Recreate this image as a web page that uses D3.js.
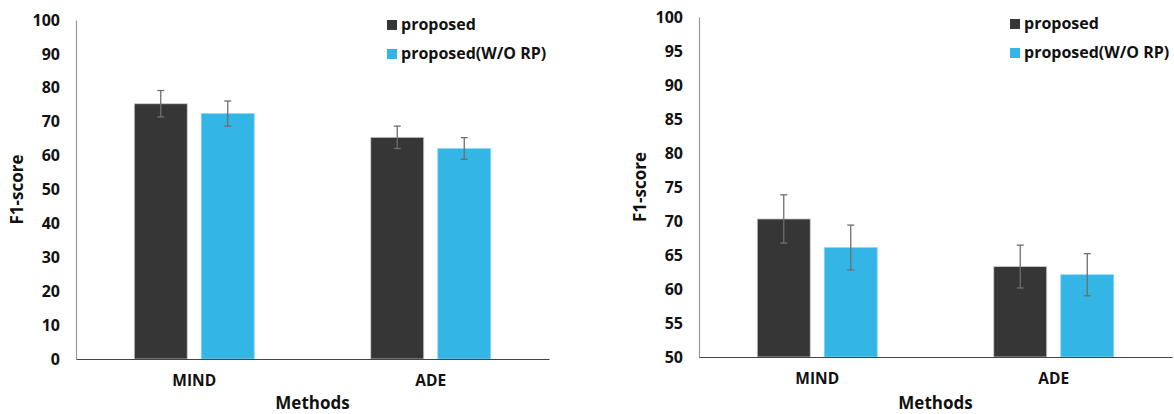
<!DOCTYPE html>
<html><head><meta charset="utf-8">
<script src="https://cdn.jsdelivr.net/npm/d3@7"></script>
<style>body{margin:0;background:#fff}svg{display:block}text{font-family:"Open Sans",Lato,sans-serif;font-weight:700;fill:#111}</style>
</head><body><svg id="c" width="1174" height="414"></svg>
<script>
const categories = ["MIND", "ADE"];
const seriesNames = ["proposed", "proposed(W/O RP)"];
const seriesColors = ["#363636", "#33b5e5"];
// left chart
const leftProposed = [75.3, 65.4];
const leftProposedErr = [3.9, 3.3];
const leftWoRP = [72.4, 62.1];
const leftWoRPErr = [3.7, 3.2];
const leftTicks = [0,10,20,30,40,50,60,70,80,90,100];
// right chart
const rightProposed = [70.3, 63.3];
const rightProposedErr = [3.55, 3.15];
const rightWoRP = [66.1, 62.1];
const rightWoRPErr = [3.3, 3.1];
const rightTicks = [50,55,60,65,70,75,80,85,90,95,100];

const svg = d3.select("#c");

function drawChart(cfg){
  const g = svg.append("g");
  const x = d3.scaleBand().domain(categories).range([cfg.x0, cfg.x1]);
  const y = d3.scaleLinear().domain(cfg.domain).range([cfg.yb, cfg.yt]);
  const barW = 53, gap = 14;
  const series = [
    {vals: cfg.a, errs: cfg.ae, color: seriesColors[0]},
    {vals: cfg.b, errs: cfg.be, color: seriesColors[1]}
  ];
  series.forEach((s, si) => {
    categories.forEach((c, ci) => {
      const cx = x(c) + x.bandwidth()/2;
      const bx = si === 0 ? cx - gap/2 - barW : cx + gap/2;
      g.append("rect").attr("x", bx).attr("y", y(s.vals[ci]))
        .attr("width", barW).attr("height", y(cfg.domain[0]) - y(s.vals[ci]))
        .attr("fill", s.color).attr("stroke", si===0 ? "#cfcfcf" : "#8fd6f2").attr("stroke-width", 0.8);
      const ex = bx + barW/2;
      const hi = y(s.vals[ci] + s.errs[ci]), lo = y(s.vals[ci] - s.errs[ci]);
      g.append("line").attr("x1", ex).attr("x2", ex).attr("y1", hi).attr("y2", lo)
        .attr("stroke", "#6e6e6e").attr("stroke-width", 1.3);
      [hi, lo].forEach(yy => g.append("line").attr("x1", ex-3.5).attr("x2", ex+3.5)
        .attr("y1", yy).attr("y2", yy).attr("stroke", "#6e6e6e").attr("stroke-width", 1.3));
    });
  });
  // y axis
  const ya = d3.axisLeft(y).tickValues(cfg.ticks).tickSize(0).tickPadding(16);
  const yg = g.append("g").attr("transform", `translate(${cfg.x0},0)`).call(ya);
  yg.select(".domain").attr("stroke", "#999").attr("stroke-width", 1.2);
  yg.selectAll("text").style("font-size", "16px").attr("fill", "#111");
  // x axis
  const xa = d3.axisBottom(x).tickSize(0).tickPadding(16);
  const xg = g.append("g").attr("transform", `translate(0,${cfg.yb})`).call(xa);
  xg.select(".domain").attr("stroke", "#444").attr("stroke-width", 1.2);
  xg.selectAll("text").style("font-size", "15.5px").attr("fill", "#111");
  // axis titles
  g.append("text").attr("x", (cfg.x0+cfg.x1)/2).attr("y", 409).attr("text-anchor", "middle")
    .style("font-size", "17px").text("Methods");
  g.append("text").attr("transform", `translate(${cfg.x0-53},${(cfg.yt+cfg.yb)/2}) rotate(-90)`)
    .attr("text-anchor", "middle").style("font-size", "17px").text("F1-score");
  // legend
  seriesNames.forEach((n, i) => {
    const ly = cfg.legY + i*29;
    g.append("rect").attr("x", cfg.legX).attr("y", ly).attr("width", 10).attr("height", 10)
      .attr("fill", seriesColors[i]);
    g.append("text").attr("x", cfg.legX + 14).attr("y", ly + 10).style("font-size", "16px").text(n);
  });
}

drawChart({x0:76, x1:549, yt:20, yb:359, domain:[0,100], ticks:leftTicks,
  a:leftProposed, ae:leftProposedErr, b:leftWoRP, be:leftWoRPErr, legX:387, legY:20});
drawChart({x0:699, x1:1172, yt:17, yb:357, domain:[50,100], ticks:rightTicks,
  a:rightProposed, ae:rightProposedErr, b:rightWoRP, be:rightWoRPErr, legX:1010, legY:19});
</script></body></html>
